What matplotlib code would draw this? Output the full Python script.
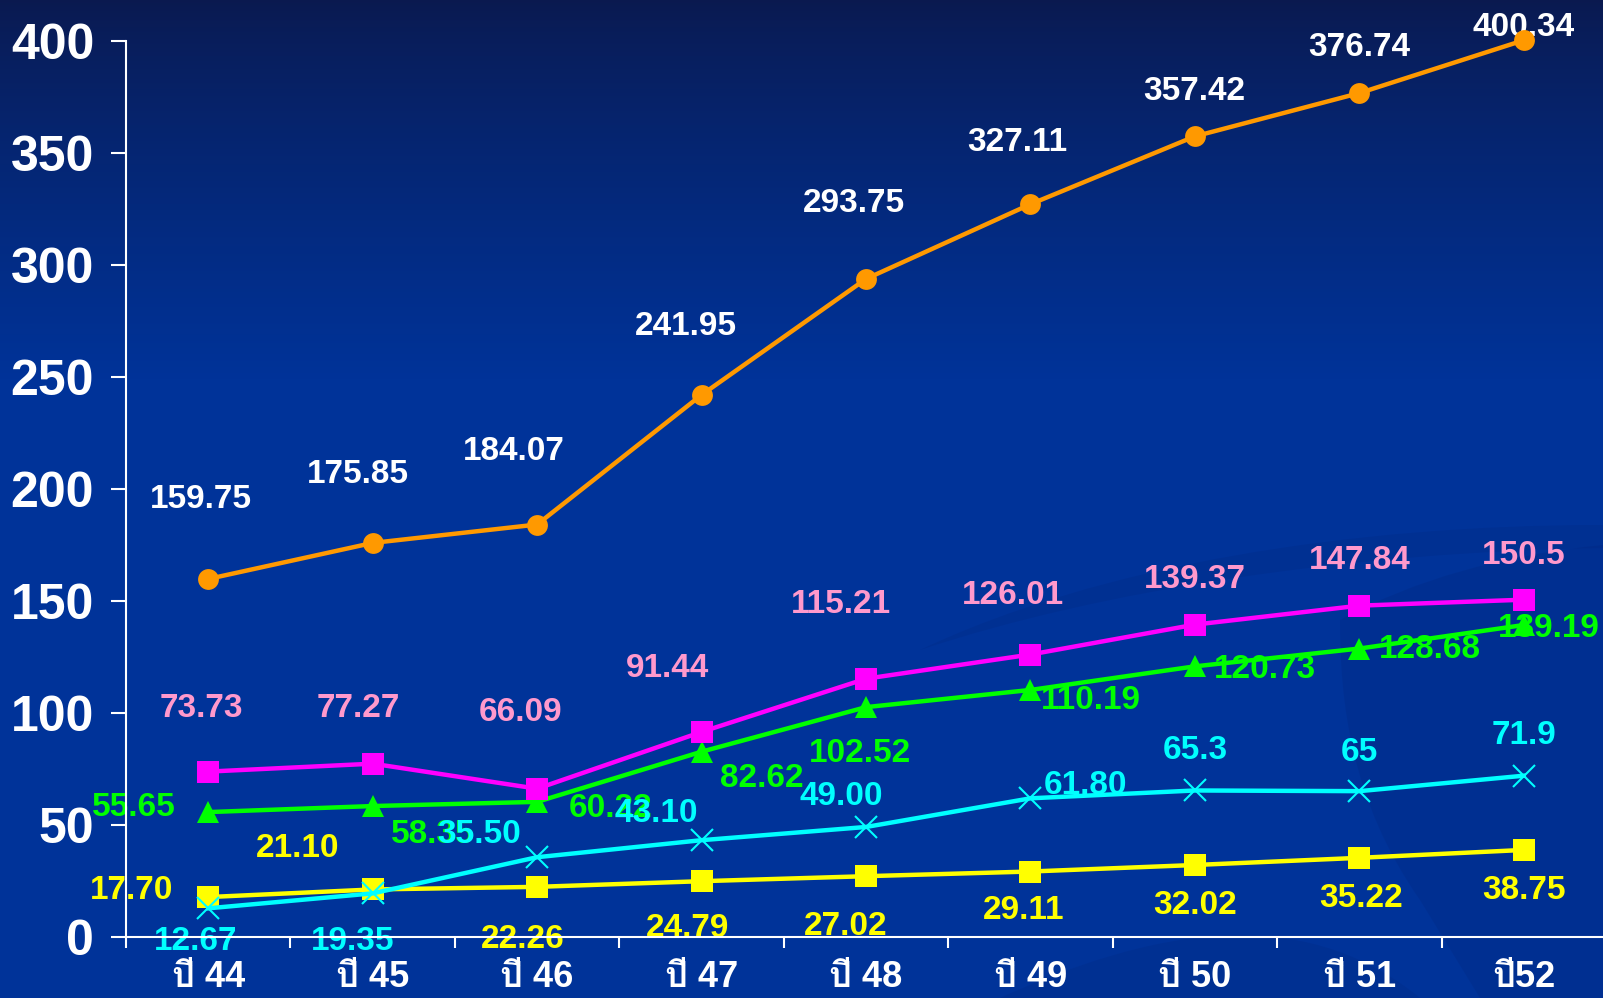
import numpy as np
import matplotlib
matplotlib.use("Agg")
import matplotlib.pyplot as plt
from matplotlib import font_manager, ft2font
from matplotlib.path import Path
from matplotlib.patches import PathPatch

# ---- data ----
years = ["ปี 44", "ปี 45", "ปี 46", "ปี 47", "ปี 48", "ปี 49", "ปี 50", "ปี 51", "ปี52"]
orange_vals = [159.75, 175.85, 184.07, 241.95, 293.75, 327.11, 357.42, 376.74, 400.34]
magenta_vals = [73.73, 77.27, 66.09, 91.44, 115.21, 126.01, 139.37, 147.84, 150.5]
green_vals = [55.65, 58.35, 60.22, 82.62, 102.52, 110.19, 120.73, 128.68, 139.19]
yellow_vals = [17.70, 21.10, 22.26, 24.79, 27.02, 29.11, 32.02, 35.22, 38.75]
cyan_vals = [12.67, 19.35, 35.50, 43.10, 49.00, 61.80, 65.3, 65, 71.9]
orange_labels = ["159.75", "175.85", "184.07", "241.95", "293.75", "327.11", "357.42", "376.74", "400.34"]
magenta_labels = ["73.73", "77.27", "66.09", "91.44", "115.21", "126.01", "139.37", "147.84", "150.5"]
green_labels = ["55.65", "58.35", "60.22", "82.62", "102.52", "110.19", "120.73", "128.68", "139.19"]
yellow_labels = ["17.70", "21.10", "22.26", "24.79", "27.02", "29.11", "32.02", "35.22", "38.75"]
cyan_labels = ["12.67", "19.35", "35.50", "43.10", "49.00", "61.80", "65.3", "65", "71.9"]

# label offsets in screen pixels (dx, dy with dy downward)
orange_off = [(-7, -79), (-15, -68), (-23, -73), (-16, -68), (-12, -75), (-13, -62), (-1, -45), (0, -46), (0, -13)]
magenta_off = [(-7, -63), (-14, -55), (-17, -76), (-34, -63), (-25, -74), (-18, -59), (0, -45), (0, -45), (0, -44)]
green_off = [(-74, -5), (60, 28), (74, 7), (60, 27), (-6, 46), (60, 11), (70, 3), (71, 1), (25, 3)]
yellow_off = [(-77, -7), (-75, -41), (-14, 53), (-14, 47), (-20, 50), (-7, 39), (0, 41), (2, 41), (0, 41)]
cyan_off = [(-13, 33), (-20, 48), (-58, -23), (-45, -27), (-25, -30), (55, -13), (0, -40), (0, -39), (0, -40)]


# ---- fonts: find something that has Thai glyphs ----
def find_thai_family():
    for f in font_manager.fontManager.ttflist:
        try:
            ft = ft2font.FT2Font(f.fname)
            if ft.get_char_index(0x0E1B) and ft.get_char_index(0x0E35):
                return f.name
        except Exception:
            pass
    return None


thai = find_thai_family()
families = ["Liberation Sans"] + ([thai] if thai else []) + ["DejaVu Sans"]
plt.rcParams["font.family"] = families
plt.rcParams["font.weight"] = "bold"

W, H = 1603, 998
fig = plt.figure(figsize=(W / 100, H / 100), dpi=100)

# background gradient
bg = fig.add_axes([0, 0, 1, 1], zorder=-10)
rows = np.linspace(0, 1, H)
t = np.clip(rows / 0.38, 0, 1) ** 0.8
top = np.array([0.04, 0.10, 0.31])
base = np.array([0.0, 0.20, 0.60])
grad = top[None, :] * (1 - t[:, None]) + base[None, :] * t[:, None]
img = np.repeat(grad[:, None, :], 8, axis=1)
bg.imshow(img, aspect="auto", extent=[0, W, H, 0])
bg.set_xlim(0, W)
bg.set_ylim(H, 0)
bg.axis("off")

# faint swirl decoration bottom right
swirl_dark = (0.0, 0.14, 0.47)
verts = [(1603, 545), (1450, 560), (1340, 620), (1340, 700),
         (1350, 800), (1420, 900), (1480, 998),
         (1603, 998), (1603, 545)]
codes = [Path.MOVETO, Path.CURVE3, Path.CURVE3, Path.CURVE4, Path.CURVE4, Path.CURVE4,
         Path.LINETO, Path.LINETO, Path.CLOSEPOLY]
bg.add_patch(PathPatch(Path(verts, codes), facecolor=swirl_dark, edgecolor="none", alpha=0.22))
verts2 = [(920, 650), (1100, 565), (1350, 525), (1603, 525),
          (1603, 548), (1350, 552), (1100, 590), (920, 650)]
codes2 = [Path.MOVETO, Path.CURVE4, Path.CURVE4, Path.CURVE4,
          Path.LINETO, Path.CURVE4, Path.CURVE4, Path.CURVE4]
bg.add_patch(PathPatch(Path(verts2, codes2), facecolor=swirl_dark, edgecolor="none", alpha=0.2))
verts3 = [(1000, 998), (1150, 930), (1300, 900), (1420, 998), (1000, 998)]
codes3 = [Path.MOVETO, Path.CURVE4, Path.CURVE4, Path.CURVE4, Path.CLOSEPOLY]
bg.add_patch(PathPatch(Path(verts3, codes3), facecolor=swirl_dark, edgecolor="none", alpha=0.2))

# main axes
ax = fig.add_axes([126 / W, (H - 936.7) / H, 1480 / W, 895.7 / H])
ax.patch.set_alpha(0)
x = np.arange(len(years))


def draw_series(vals, labels, offs, color, lcolor, marker, ms, mew=0, zl=3, zt=2):
    ax.plot(x, vals, color=color, lw=3.2, marker=marker, markersize=ms,
            markeredgewidth=mew, markeredgecolor=color, zorder=zl, clip_on=False)
    for xi, v, lab, (dx, dy) in zip(x, vals, labels, offs):
        ax.annotate(lab, (xi, v), xytext=(dx, -dy), textcoords="offset pixels",
                    ha="center", va="center", fontsize=24, fontweight="bold",
                    color=lcolor, zorder=zt, annotation_clip=False)


draw_series(orange_vals, orange_labels, orange_off, "#ff9900", "white", "o", 15, zl=5, zt=2.1)
draw_series(magenta_vals, magenta_labels, magenta_off, "#ff00ff", "#ff99cc", "s", 16.5, zl=4.5, zt=2.2)
draw_series(green_vals, green_labels, green_off, "#00ff00", "#00ff00", "^", 16.5, zl=4.4, zt=2.3)
draw_series(yellow_vals, yellow_labels, yellow_off, "#ffff00", "#ffff00", "s", 15.5, zl=4.2, zt=2.4)
draw_series(cyan_vals, cyan_labels, cyan_off, "#00ffff", "#00ffff", "x", 16.5, mew=1.5, zl=4.3, zt=2.5)

ax.set_xlim(-0.5, len(years) - 0.5)
ax.set_ylim(0, 400)

for s in ["top", "right"]:
    ax.spines[s].set_visible(False)
for s in ["left", "bottom"]:
    ax.spines[s].set_color("white")
    ax.spines[s].set_linewidth(1.5)

ax.set_yticks(np.arange(0, 401, 50))
ax.tick_params(axis="y", colors="white", length=11, width=1.5, pad=12, labelsize=36)
for lbl in ax.get_yticklabels():
    lbl.set_fontweight("bold")

ax.set_xticks(x)
ax.set_xticklabels(years, fontsize=26, fontweight="bold", color="white")
ax.set_xticks(np.arange(-0.5, len(years)), minor=True)
ax.tick_params(axis="x", which="major", length=0, pad=17)
ax.tick_params(axis="x", which="minor", colors="white", length=8, width=1.5)

fig.savefig("out.png", dpi=100)
